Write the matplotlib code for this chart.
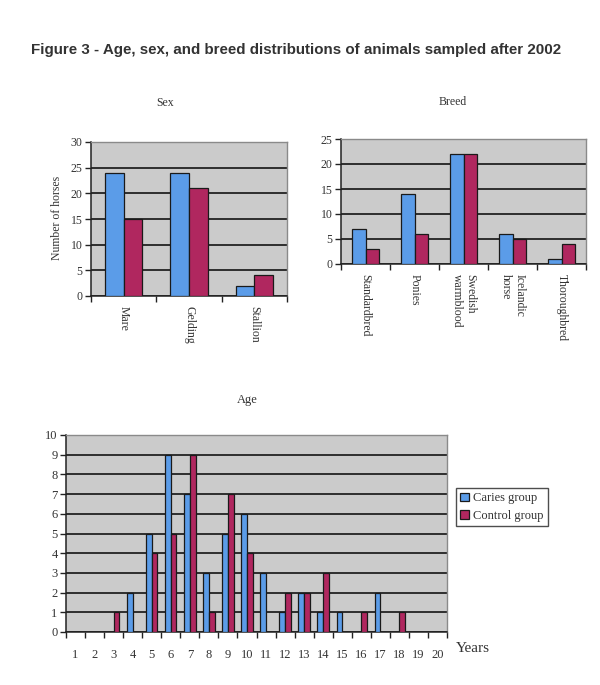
import matplotlib
matplotlib.use("Agg")
import matplotlib.pyplot as plt
import numpy as np

# ---- data ----
sex_categories = ["Mare", "Gelding", "Stallion"]
sex_caries = [24, 24, 2]
sex_control = [15, 21, 4]

breed_categories = ["Standardbred", "Ponies", "Swedish\nwarmblood", "Icelandic\nhorse", "Thoroughbred"]
breed_caries = [7, 14, 22, 6, 1]
breed_control = [3, 6, 22, 5, 4]

age_years = [str(i) for i in range(1, 21)]
age_caries = [0, 0, 0, 2, 5, 9, 7, 3, 5, 6, 3, 1, 2, 1, 1, 0, 2, 0, 0, 0]
age_control = [0, 0, 1, 0, 4, 5, 9, 1, 7, 4, 0, 2, 2, 3, 0, 1, 0, 1, 0, 0]

series_names = ["Caries group", "Control group"]

# ---- style ----
W, H = 600, 685
BLUE = "#5b9ce8"
MAROON = "#b0275f"
BG = "#cbcbcb"
GRID = "#222222"
SERIF = ["Liberation Serif", "DejaVu Serif"]
plt.rcParams["font.family"] = SERIF

fig = plt.figure(figsize=(W / 100, H / 100), dpi=100)


def px_axes(left, top, right, bottom):
    return fig.add_axes([left / W, 1 - bottom / H, (right - left) / W, (bottom - top) / H])


def style_axes(ax, n, ymax, ystep, labels, rot, fs=8, label_pad=3):
    ax.set_facecolor(BG)
    ax.set_xlim(0, n)
    ax.set_ylim(0, ymax)
    ax.set_yticks(np.arange(0, ymax + 0.1, ystep))
    ax.yaxis.grid(True, color=GRID, lw=1.3)
    ax.set_axisbelow(True)
    ax.set_xticks(np.arange(0, n + 1))
    ax.set_xticklabels([])
    ax.set_xticks(np.arange(n) + 0.5, minor=True)
    ax.set_xticklabels(labels, minor=True, rotation=rot, fontsize=fs,
                       va="top", ha="center", multialignment="left")
    ax.tick_params(axis="x", which="minor", length=0, pad=label_pad)
    ax.tick_params(axis="x", which="major", direction="out", length=4, width=1, color="#222222")
    ax.tick_params(axis="y", direction="out", length=4, width=1, color="#222222",
                   labelsize=fs, pad=2, labelcolor="#333333")
    for lab in ax.get_xticklabels(minor=True):
        lab.set_color("#333333")
    for s in ["left", "bottom"]:
        ax.spines[s].set_color("#222222")
        ax.spines[s].set_linewidth(1.1)
    for s in ["top", "right"]:
        ax.spines[s].set_color("#8a8a8a")
        ax.spines[s].set_linewidth(1.0)


def draw_bars(ax, caries, control, width):
    x = np.arange(len(caries)) + 0.5
    b1 = ax.bar(x - width / 2, caries, width, color=BLUE, edgecolor="#1a1a1a", lw=0.9,
                label=series_names[0], zorder=3)
    b2 = ax.bar(x + width / 2, control, width, color=MAROON, edgecolor="#1a1a1a", lw=0.9,
                label=series_names[1], zorder=3)
    return b1, b2


# Title
fig.text(296 / W, 1 - 50 / H,
         "Figure 3 - Age, sex, and breed distributions of animals sampled after 2002",
         ha="center", va="center", fontsize=10.9, fontweight="bold",
         family=["Liberation Sans", "DejaVu Sans"], color="#333333")

# Sex chart
ax1 = px_axes(91, 142, 287, 296)
draw_bars(ax1, sex_caries, sex_control, 0.285)
style_axes(ax1, len(sex_categories), 30, 5, sex_categories, -90, fs=8.5, label_pad=7)
fig.text(165 / W, 1 - 103 / H, "Sex", ha="center", va="center", fontsize=8.5, color="#333333")
fig.text(57 / W, 1 - 218 / H, "Number of horses", ha="center", va="center",
         rotation=90, fontsize=8.5, color="#333333")

# Breed chart
ax2 = px_axes(341, 139, 586, 264)
draw_bars(ax2, breed_caries, breed_control, 0.285)
style_axes(ax2, len(breed_categories), 25, 5, breed_categories, -90, fs=8.5, label_pad=7)
fig.text(453 / W, 1 - 102 / H, "Breed", ha="center", va="center", fontsize=8.5, color="#333333")

# Age chart
ax3 = px_axes(66, 435, 447, 632)
b1, b2 = draw_bars(ax3, age_caries, age_control, 0.3)
style_axes(ax3, len(age_years), 10, 1, age_years, 0, fs=9, label_pad=12)
fig.text(247 / W, 1 - 400 / H, "Age", ha="center", va="center", fontsize=9, color="#333333")
fig.text(456 / W, 1 - 649 / H, "Years", ha="left", va="center", fontsize=11, color="#333333")

leg = fig.legend(handles=[b1, b2], labels=series_names, loc="upper left",
                 bbox_to_anchor=(456 / W, 1 - 488 / H), bbox_transform=fig.transFigure,
                 borderaxespad=0, frameon=True, fancybox=False, fontsize=9,
                 handlelength=0.7, handleheight=0.7, handletextpad=0.3,
                 borderpad=0.35, labelspacing=0.45)
leg.get_frame().set_edgecolor("#222222")
leg.get_frame().set_linewidth(1.0)
for t in leg.get_texts():
    t.set_color("#333333")

fig.savefig("out.png", dpi=100)
